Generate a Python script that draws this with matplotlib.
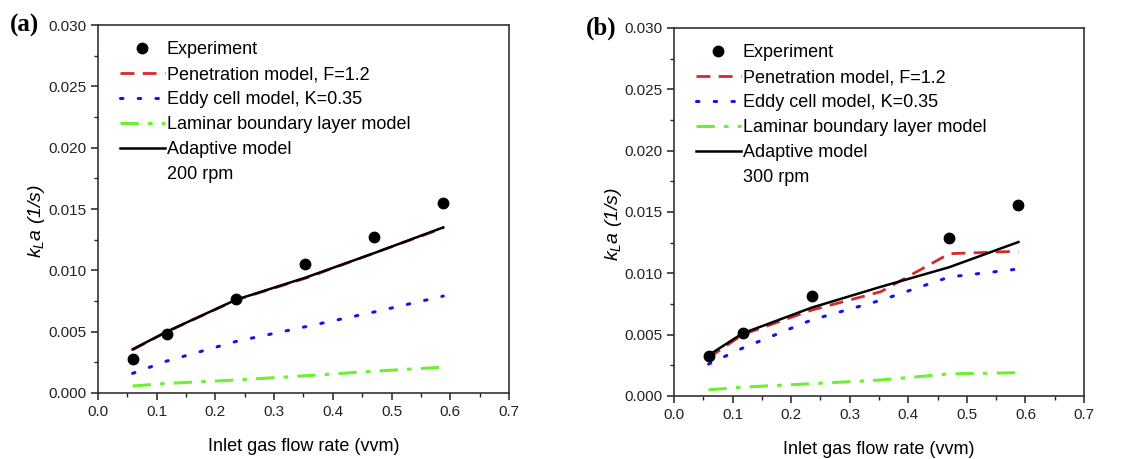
import matplotlib
matplotlib.use('Agg')
from matplotlib import pyplot as plt
from matplotlib.ticker import MultipleLocator, FormatStrFormatter

plt.rcParams['font.family'] = ['Liberation Sans', 'DejaVu Sans']
plt.rcParams['mathtext.fontset'] = 'custom'
plt.rcParams['mathtext.rm'] = 'Liberation Sans'
plt.rcParams['mathtext.it'] = 'Liberation Sans:italic'

# gas flow rate (vvm)
flow = [0.059, 0.117, 0.235, 0.353, 0.470, 0.588]

# (a) 200 rpm
exp_a = [0.00274, 0.00478, 0.00764, 0.0105, 0.0127, 0.0155]
pen_a = [0.00352, 0.00498, 0.00758, 0.00935, 0.01140, 0.01345]
eddy_a = [0.0016, 0.0026, 0.0042, 0.0054, 0.0066, 0.0079]
lam_a = [0.00057, 0.00078, 0.00106, 0.00140, 0.00178, 0.0021]
adapt_a = [0.00356, 0.0050, 0.0076, 0.0094, 0.0114, 0.0135]

# (b) 300 rpm - no experiment point at 0.353
flow_exp_b = [0.059, 0.117, 0.235, 0.470, 0.588]
exp_b = [0.00329, 0.00514, 0.00812, 0.01285, 0.0156]
pen_b = [0.0031, 0.0050, 0.0070, 0.0085, 0.0116, 0.0118]
eddy_b = [0.0026, 0.0039, 0.0062, 0.0078, 0.0097, 0.01035]
lam_b = [0.0005, 0.00072, 0.0010, 0.0013, 0.0018, 0.0019]
adapt_b = [0.00332, 0.0051, 0.0072, 0.0089, 0.0105, 0.01255]

labels = ['Experiment', 'Penetration model, F=1.2', 'Eddy cell model, K=0.35',
          'Laminar boundary layer model', 'Adaptive model']

fig = plt.figure(figsize=(11.47, 4.59), dpi=100)
ax1 = fig.add_axes([0.0854, 0.1438, 0.3584, 0.8017])
ax2 = fig.add_axes([0.5876, 0.1373, 0.3575, 0.8017])


def draw(ax, fx, ex, pen, eddy, lam, adapt, rpm, tag):
    h_exp, = ax.plot(fx, ex, 'o', color='black', markersize=7.5, zorder=5)
    h_pen, = ax.plot(flow, pen, color='#d42a2a', lw=2, linestyle=(0, (5, 3)))
    h_eddy, = ax.plot(flow, eddy, color='#1414e6', lw=2.2, linestyle=(0, (0.8, 5)),
                      dash_capstyle='round')
    h_lam, = ax.plot(flow, lam, color='#6cf032', lw=2.2, linestyle=(0, (6, 3, 1.5, 3)))
    h_ad, = ax.plot(flow, adapt, color='black', lw=1.8, zorder=4)
    h_blank, = ax.plot([], [], linestyle='none')

    ax.legend([h_exp, h_pen, h_eddy, h_lam, h_ad, h_blank], labels + [rpm],
              loc='upper left', frameon=False, fontsize=13,
              handlelength=2.5, handletextpad=0.1, labelspacing=0.44,
              borderaxespad=0.3, bbox_to_anchor=(0.022, 0.99))

    ax.set_xlim(0, 0.7)
    ax.set_ylim(0, 0.030)
    ax.xaxis.set_major_locator(MultipleLocator(0.1))
    ax.xaxis.set_minor_locator(MultipleLocator(0.05))
    ax.yaxis.set_major_locator(MultipleLocator(0.005))
    ax.yaxis.set_minor_locator(MultipleLocator(0.0025))
    ax.xaxis.set_major_formatter(FormatStrFormatter('%.1f'))
    ax.yaxis.set_major_formatter(FormatStrFormatter('%.3f'))
    ax.tick_params(which='major', direction='out', length=5, width=1.1, labelsize=11,
                   colors='#222222')
    ax.tick_params(which='minor', direction='out', length=3, width=1.0, colors='#222222')
    for s in ax.spines.values():
        s.set_linewidth(1.2)
        s.set_color('#333333')

    ax.set_xlabel('Inlet gas flow rate (vvm)', fontsize=13, labelpad=14)
    ax.set_ylabel(r'$k_{L}a$ (1/s)', fontsize=14, fontstyle='italic')
    ax.yaxis.set_label_coords(-0.123, 0.467)
    ax.text(-0.215, 1.0, tag, transform=ax.transAxes, fontsize=18, fontweight='bold',
            family='Liberation Serif', va='center', ha='left')


draw(ax1, flow, exp_a, pen_a, eddy_a, lam_a, adapt_a, '200 rpm', '(a)')
draw(ax2, flow_exp_b, exp_b, pen_b, eddy_b, lam_b, adapt_b, '300 rpm', '(b)')

plt.savefig('out.png', dpi=100)
